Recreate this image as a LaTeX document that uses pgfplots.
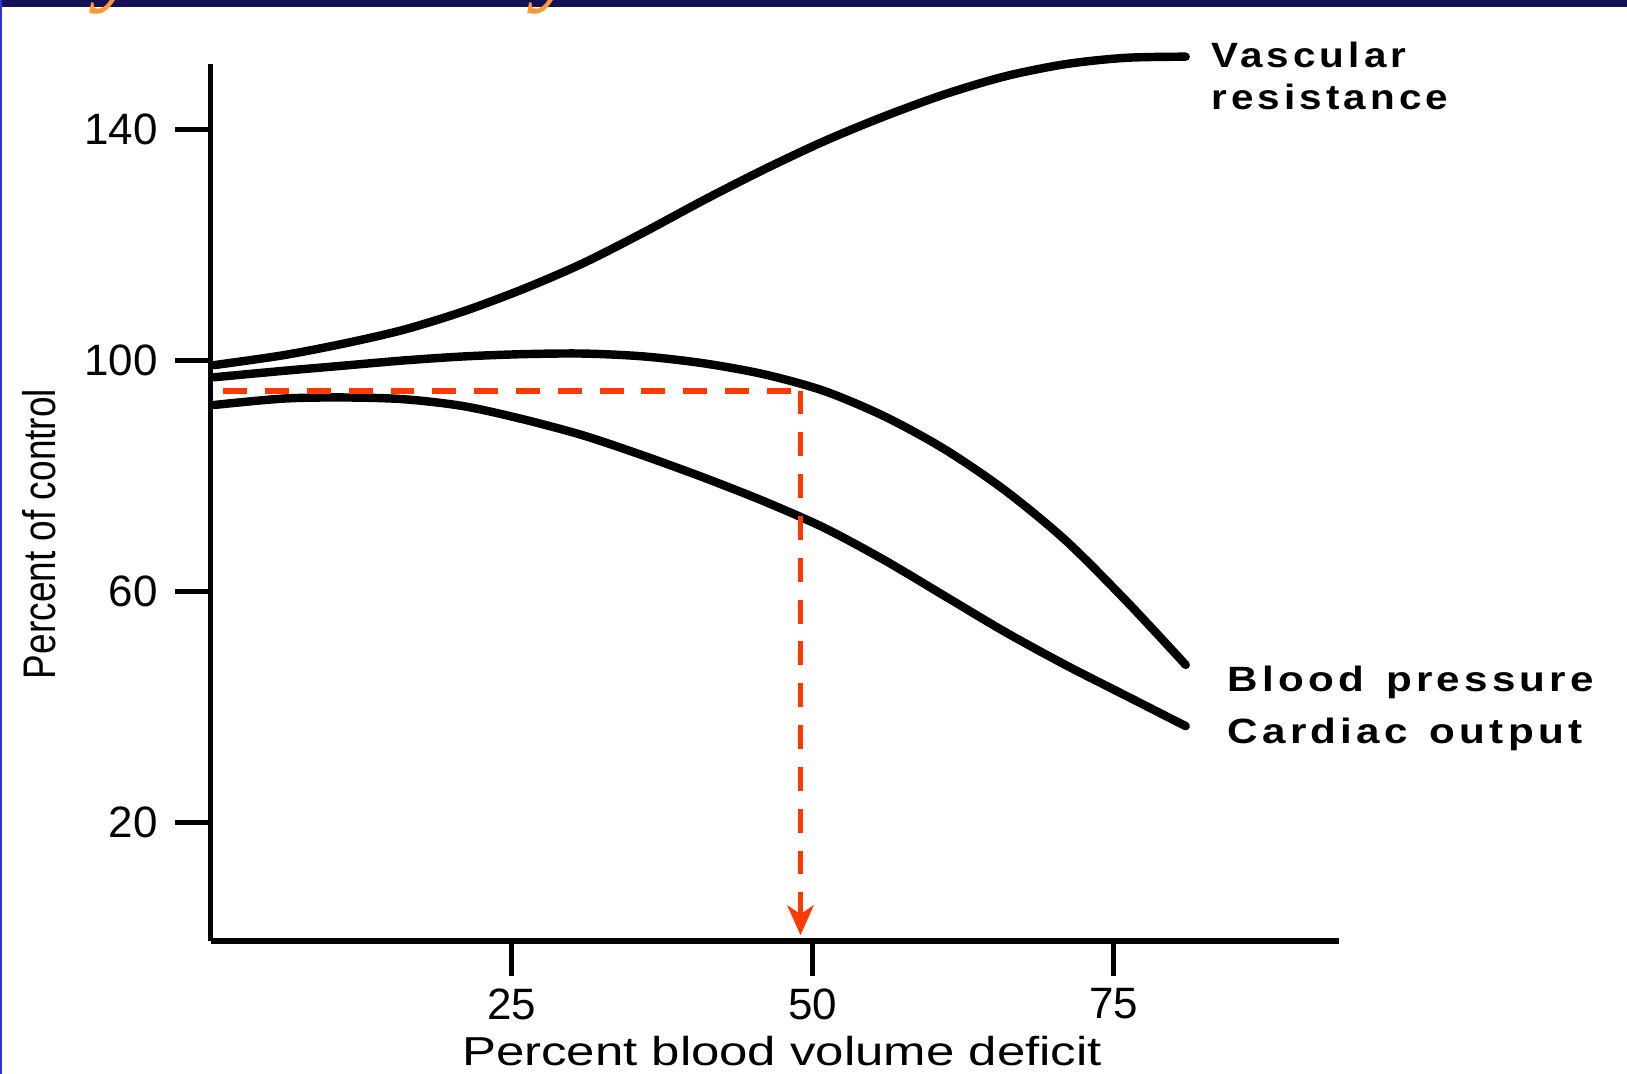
\documentclass[border=0pt]{standalone}
\usepackage{fontspec}
\setmainfont{Liberation Sans}
\newfontfamily\serifit{Liberation Serif}
\newfontfamily\boldlbl[LetterSpace=10]{Liberation Sans Bold}
\usepackage{pgfplots}
\pgfplotsset{compat=1.18}
\usetikzlibrary{arrows.meta}
\definecolor{navy}{RGB}{20,18,84}
\definecolor{edgeblue}{RGB}{50,50,220}
\definecolor{dashred}{RGB}{255,58,0}
\definecolor{titleorange}{RGB}{255,153,51}

\pgfplotstableread{
x y
0.3 99.2
6 100.9
11 102.9
16 105.3
21 108.5
26 112.4
31 116.9
36 122.2
41 127.8
46 133.1
51 138.0
56 142.3
61 146.1
66 149.2
71 151.3
76 152.4
81 152.6
}\vascular

\pgfplotstableread{
x y
0.3 97.1
6 98.2
11 99.1
16 100.0
21 100.7
26 101.1
31 101.2
36 100.7
41 99.5
46 97.6
51 94.7
56 90.3
61 84.6
66 77.5
71 68.9
76 58.5
81 47.3
}\pressure

\pgfplotstableread{
x y
0.3 92.3
6 93.4
11 93.6
16 93.3
21 92.1
26 89.8
31 87.0
36 83.5
41 79.7
46 75.6
51 71.0
56 65.4
61 59.2
66 53.0
71 47.3
76 42.0
81 36.7
}\output

\begin{document}
\begin{tikzpicture}[x=1cm,y=1cm]
\path[use as bounding box] (0,0) rectangle (16.27,10.74);
\fill[white] (0,0) rectangle (16.27,10.74);
\fill[navy] (0,10.67) rectangle (16.27,10.74);
\fill[edgeblue] (0,0) rectangle (0.02,10.74);
\begin{scope}
\clip (0,0) rectangle (16.27,10.74);
\node[anchor=base, text=titleorange, font=\serifit\itshape\fontsize{30}{30}\selectfont, inner sep=0] at (1.22,10.82) {y};
\node[anchor=base, text=titleorange, font=\serifit\itshape\fontsize{30}{30}\selectfont, inner sep=0] at (5.60,10.82) {y};
\end{scope}

\begin{axis}[
  at={(2.106cm,1.33cm)}, anchor=south west,
  scale only axis, width=11.28cm, height=8.768cm,
  xmin=0, xmax=93.7, ymin=-0.5, ymax=151.3,
  axis lines=left,
  axis line style={line width=1.6pt, -},
  xtick={25,50,75}, ytick={20,60,100,140},
  tick align=outside, major tick length=10pt,
  tick style={line width=1.4pt, black},
  ticklabel style={font=\fontsize{12.5}{14}\selectfont},
  yticklabel style={xshift=-1.5pt},
  /pgf/number format/assume math mode=true,
  clip=false,
]
\addplot[black, line width=2.4pt, smooth, line cap=round] table {\vascular};
\addplot[black, line width=2.4pt, smooth, line cap=round] table {\pressure};
\addplot[black, line width=2.4pt, smooth, line cap=round] table {\output};
\addplot[dashred, line width=1.7pt, dash pattern=on 6.8pt off 5.1pt] coordinates {(1.05,94.8) (49.0,94.8)};
\addplot[dashred, line width=1.2pt, dash pattern=on 6.8pt off 5.1pt, -{Stealth[length=8.5pt,width=7.5pt,inset=2.5pt]}] coordinates {(49.0,94.8) (49.0,0.5)};
\end{axis}

\node[rotate=90, anchor=base, inner sep=0] at (0.55,5.40) {\scalebox{0.81}[1]{\fontsize{13}{13}\selectfont Percent of control}};
\node[anchor=base, inner sep=0] at (7.82,0.08) {\scalebox{1.26}[1]{\fontsize{11.5}{12}\selectfont Percent blood volume deficit}};
\node[anchor=base west, inner sep=0] at (12.11,10.06) {\scalebox{1.15}[1]{\boldlbl\fontsize{10}{11}\selectfont Vascular}};
\node[anchor=base west, inner sep=0] at (12.11,9.64) {\scalebox{1.15}[1]{\boldlbl\fontsize{10}{11}\selectfont resistance}};
\node[anchor=base west, inner sep=0] at (12.27,3.82) {\scalebox{1.2}[1]{\boldlbl\fontsize{10}{11}\selectfont Blood\hspace{1.5pt} pressure}};
\node[anchor=base west, inner sep=0] at (12.27,3.30) {\scalebox{1.2}[1]{\boldlbl\fontsize{10}{11}\selectfont Cardiac\hspace{1.5pt} output}};
\end{tikzpicture}
\end{document}
